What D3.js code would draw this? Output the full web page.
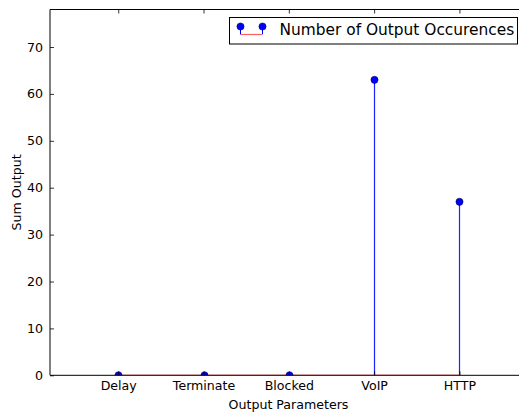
<!DOCTYPE html>
<html>
<head>
<meta charset="utf-8">
<script src="https://cdn.jsdelivr.net/npm/d3@7"></script>
<style>
  html, body { margin: 0; padding: 0; background: #fff; }
  svg { display: block; font-family: "DejaVu Sans", sans-serif; }
</style>
</head>
<body>
<svg id="chart" width="519" height="413"></svg>
<script>
// Output parameter categories and how often each occurred
const categories = ["Delay", "Terminate", "Blocked", "VoIP", "HTTP"];
const occurrences = [0, 0, 0, 63, 37];
const yTicks = [0, 10, 20, 30, 40, 50, 60, 70];
const seriesName = "Number of Output Occurences";

const svg = d3.select("#chart");
const plot = { left: 50, top: 9.5, bottom: 375.3 };

// Positional x scale (stem plot uses index positions)
const x = d3.scaleLinear().domain([-0.8, 4.8]).range([plot.left, plot.left + 5.6 * 85.3]);
const y = d3.scaleLinear().domain([0, 78]).range([plot.bottom, plot.top]);
const right = x.range()[1];

svg.append("defs").append("clipPath").attr("id", "plotClip")
  .append("rect").attr("x", plot.left).attr("y", plot.top)
  .attr("width", right - plot.left).attr("height", plot.bottom - plot.top);

const g = svg.append("g").attr("clip-path", "url(#plotClip)");

// Stems (filled rects keep the thin vertical strokes crisp and saturated)
g.selectAll("rect.stem").data(occurrences).join("rect")
  .attr("class", "stem")
  .attr("x", (d, i) => Math.round(x(i)) - 0.1).attr("width", 1.2)
  .attr("y", d => y(d)).attr("height", d => y(0) - y(d))
  .attr("fill", "#2020ff");

// Axes (classic style: ticks inward on all sides)
const xAxisBottom = d3.axisBottom(x).tickValues(d3.range(categories.length))
  .tickFormat(i => categories[i]).tickSizeInner(-4).tickSizeOuter(0).tickPadding(6);
const xAxisTop = d3.axisTop(x).tickValues(d3.range(categories.length))
  .tickFormat("").tickSizeInner(-4).tickSizeOuter(0);
const yAxisLeft = d3.axisLeft(y).tickValues(yTicks).tickSizeInner(-4).tickSizeOuter(0).tickPadding(7);

function style(sel) {
  sel.select(".domain").remove();
  sel.selectAll(".tick line").attr("stroke", "#000").attr("stroke-width", 0.8);
  sel.selectAll(".tick text").attr("fill", "#000").style("font-size", "12.6px")
    .style("font-family", "'DejaVu Sans', sans-serif");
}
svg.append("g").attr("transform", `translate(0,${plot.bottom})`).call(xAxisBottom).call(style);
svg.append("g").attr("transform", `translate(0,${plot.top})`).call(xAxisTop).call(style);
svg.append("g").attr("transform", `translate(${plot.left},0)`).call(yAxisLeft).call(style);

// Spines
svg.append("path")
  .attr("d", `M${right},${plot.top}H${plot.left}V${plot.bottom}H${right}`)
  .attr("fill", "none").attr("stroke", "#000").attr("stroke-width", 1);

// Baseline across the stems
g.append("line")
  .attr("x1", x(0)).attr("x2", x(categories.length - 1))
  .attr("y1", y(0)).attr("y2", y(0))
  .attr("stroke", "#ff0000").attr("stroke-opacity", 0.45).attr("stroke-width", 1.5);

// Markers
g.selectAll("circle.mark").data(occurrences).join("circle")
  .attr("class", "mark")
  .attr("cx", (d, i) => Math.round(x(i)) + 0.5).attr("cy", d => y(d)).attr("r", 3.6)
  .attr("fill", "#0000ff").attr("stroke", "#000033").attr("stroke-width", 0.5);

// Axis labels
svg.append("text").attr("x", 288.5).attr("y", 409)
  .attr("text-anchor", "middle").style("font-size", "12.6px").text("Output Parameters");
svg.append("text")
  .attr("transform", `translate(21,${(plot.top + plot.bottom) / 2}) rotate(-90)`)
  .attr("text-anchor", "middle").style("font-size", "12.6px").text("Sum Output");

// Legend
const lg = svg.append("g");
lg.append("rect").attr("x", 229.5).attr("y", 17.5).attr("width", 288).attr("height", 26.5)
  .attr("fill", "#fff").attr("stroke", "#000").attr("stroke-width", 1);
lg.append("line").attr("x1", 240.5).attr("x2", 262).attr("y1", 34.5).attr("y2", 34.5)
  .attr("stroke", "#ff6060").attr("stroke-width", 1.2);
[240.5, 262.5].forEach(cx => {
  lg.append("line").attr("x1", cx).attr("x2", cx).attr("y1", 26.5).attr("y2", 34.3)
    .attr("stroke", "#0000ff").attr("stroke-width", 1);
  lg.append("circle").attr("cx", cx).attr("cy", 26.5).attr("r", 3.6)
    .attr("fill", "#0000ff").attr("stroke", "#000033").attr("stroke-width", 0.5);
});
lg.append("text").attr("x", 279.5).attr("y", 34.8).style("font-size", "15.4px").text(seriesName);
</script>
</body>
</html>
